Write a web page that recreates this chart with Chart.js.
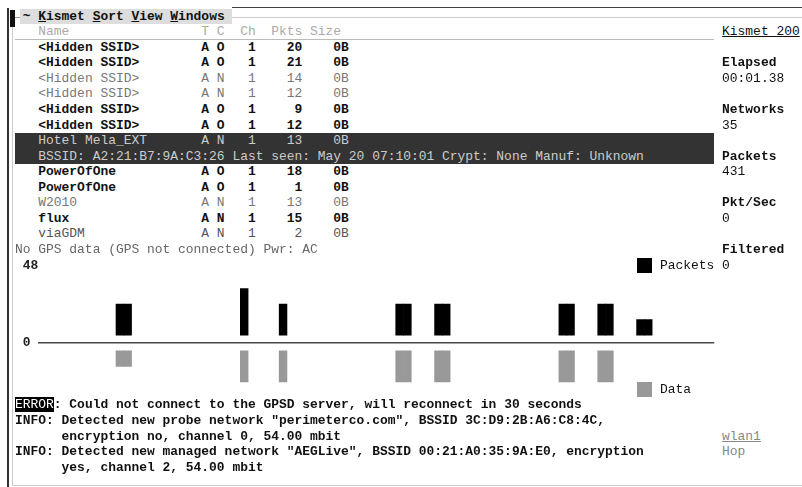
<!DOCTYPE html>
<html>
<head>
<meta charset="utf-8">
<script src="https://cdn.jsdelivr.net/npm/chart.js@4.4.1/dist/chart.umd.min.js"></script>
<style>
  body {
    margin: 0;
    width: 802px;
    height: 487px;
    overflow: hidden;
    position: relative;
    background: #fff;
    font-family: "Liberation Mono", "DejaVu Sans Mono", monospace;
    font-size: 12.95px;
    color: #111;
  }
  .t { position: absolute; white-space: pre; line-height: 15.55px; height: 15.55px; }
  .b { font-weight: bold; }
  .dim { color: #777; }
  .faint { color: #aaa; }
  .ln { position: absolute; }
  #graph { position: absolute; left: 15px; top: 250px; width: 710px; height: 160px; }
</style>
</head>
<body>
<div id="graph"><canvas id="packetGraph"></canvas></div>
<script>
// terminal cell grid
const CW = 7.77, CH = 15.55, X0 = 15, Y0 = 8.7;

// network list
const netNames = ["<Hidden SSID>", "<Hidden SSID>", "<Hidden SSID>", "<Hidden SSID>", "<Hidden SSID>", "<Hidden SSID>",
  "Hotel Mela_EXT", "PowerOfOne", "PowerOfOne", "W2010", "flux", "viaGDM"];
const netTC = ["A O", "A O", "A N", "A N", "A O", "A O", "A N", "A O", "A O", "A N", "A N", "A N"];
const netCh = [1, 1, 1, 1, 1, 1, 1, 1, 1, 1, 1, 1];
const netPkts = [20, 21, 14, 12, 9, 12, 13, 18, 1, 13, 15, 2];
const netSize = ["0B", "0B", "0B", "0B", "0B", "0B", "0B", "0B", "0B", "0B", "0B", "0B"];
const selectedInfo = "BSSID: A2:21:B7:9A:C3:26 Last seen: May 20 07:10:01 Crypt: None Manuf: Unknown";

// status panel
const statLabels = ["Elapsed", "Networks", "Packets", "Pkt/Sec", "Filtered"];
const statValues = ["00:01.38", "35", "431", "0", "0"];

// packet graph: one value per graph column, packets above the axis, data below
const _ = null;
const packetHist = [
  _, _, _, _, _, _, _, _, _, _, 24, 24, _, _, _, _, _, _, _, _,
  _, _, _, _, _, _, 33.6, _, _, _, _, 24, _, _, _, _, _, _, _, _,
  _, _, _, _, _, _, 24, 24, _, _, _, 24, 24, _, _, _, _, _, _, _,
  _, _, _, _, _, _, _, 24, 24, _, _, _, 24, 24, _, _, _, 14.4, 14.4, _,
  _, _, _, _, _, _, _
];
const dataHist = [
  _, _, _, _, _, _, _, _, _, _, 14.4, 14.4, _, _, _, _, _, _, _, _,
  _, _, _, _, _, _, 24, _, _, _, _, 24, _, _, _, _, _, _, _, _,
  _, _, _, _, _, _, 24, 24, _, _, _, 24, 24, _, _, _, _, _, _, _,
  _, _, _, _, _, _, _, 24, 24, _, _, _, 24, 24, _, _, _, _, _, _,
  _, _, _, _, _, _, _
];
const graphTicks = [0, 48];
const seriesNames = ["Packets", "Data"];

const messages = [
  "ERROR: Could not connect to the GPSD server, will reconnect in 30 seconds",
  "INFO: Detected new probe network \"perimeterco.com\", BSSID 3C:D9:2B:A6:C8:4C,",
  "      encryption no, channel 0, 54.00 mbit",
  "INFO: Detected new managed network \"AEGLive\", BSSID 00:21:A0:35:9A:E0, encryption",
  "      yes, channel 2, 54.00 mbit"
];

function put(row, col, text, cls, style) {
  const d = document.createElement("div");
  d.className = "t " + (cls || "");
  d.style.left = (X0 + col * CW) + "px";
  d.style.top = (Y0 + row * CH) + "px";
  d.textContent = text;
  if (style) Object.assign(d.style, style);
  document.body.appendChild(d);
  return d;
}
function line(x, y, w, h, color) {
  const d = document.createElement("div");
  d.className = "ln";
  Object.assign(d.style, { left: x + "px", top: y + "px", width: w + "px", height: h + "px", background: color });
  document.body.appendChild(d);
}

// frame
line(7, 8, 1.5, 479, "#333");
line(12, 17, 1, 468, "#ccc");
line(10, 10, 5, 17, "#111");
line(232, 6.5, 570, 1.5, "#444");
line(232, 16.5, 570, 1, "#ccc");
line(15, 16.5, 5, 1, "#999");
line(12, 485, 790, 1, "#ccc");
line(15, 39.3, 699, 1, "#bbb");

// menu bar
const menu = put(0, 1, "", "b", { background: "#ddd", paddingLeft: "3px", marginLeft: "-3px" });
menu.innerHTML = "~ <u>K</u>ismet <u>S</u>ort <u>V</u>iew <u>W</u>indows ";

// list header + rows
put(1, 3, "Name".padEnd(21) + "T C  Ch  Pkts Size", "faint");
line(X0, Y0 + 8 * CH, 90 * CW, 2 * CH, "#333");
netNames.forEach((name, i) => {
  const row = i < 7 ? 2 + i : 3 + i;
  const text = name.padEnd(21) + netTC[i] + "   " + netCh[i] + String(netPkts[i]).padStart(6) + "    " + netSize[i];
  let cls = netTC[i] === "A O" || name === "flux" ? "b" : "dim";
  if (i === 6) cls = "";
  const d = put(row, 3, text, cls);
  if (i === 6) d.style.color = "#ccc";
  if (name === "viaGDM") d.style.color = "#555";
});
put(9, 3, selectedInfo, "", { color: "#ccc" });
put(15, 0, "No GPS data (GPS not connected) Pwr: AC", "", { color: "#666" });

// status panel
put(1, 91, "Kismet 200", "", { textDecoration: "underline" });
statLabels.forEach((lab, i) => {
  put(3 + i * 3, 91, lab, "b");
  put(4 + i * 3, 91, statValues[i]);
});
put(27, 91, "wlan1", "", { color: "#888", textDecoration: "underline" });
put(28, 91, "Hop", "", { color: "#888" });

// messages
messages.forEach((m, i) => {
  const d = put(25 + i, 0, m, "b");
  if (m.startsWith("ERROR")) d.innerHTML = '<span style="background:#000;color:#fff;font-weight:normal">ERROR</span>' + m.slice(5);
});

// graph
const columns = packetHist.map((v, i) => i);
const graphFont = { family: "Liberation Mono", size: 12.95, weight: "bold" };
const chart = new Chart(document.getElementById("packetGraph"), {
  type: "bar",
  data: {
    labels: columns,
    datasets: [
      { label: seriesNames[0], data: packetHist, backgroundColor: "#000", base: 4.8 },
      { label: seriesNames[1], data: dataHist.map(v => (v === null ? null : -v)), backgroundColor: "#999", base: -4.8 },
    ],
  },
  options: {
    animation: false,
    responsive: true,
    maintainAspectRatio: false,
    layout: { padding: { left: CW, right: 10.7, top: 7.5, bottom: 12.55 } },
    datasets: { bar: { grouped: false, barPercentage: 1, categoryPercentage: 1, borderWidth: 0 } },
    plugins: { legend: { display: false }, tooltip: { enabled: false } },
    scales: {
      x: { display: false, stacked: true },
      y: {
        stacked: false,
        min: -33.6,
        max: 52.8,
        afterBuildTicks: (scale) => { scale.ticks = graphTicks.map(v => ({ value: v })); },
        afterFit: (scale) => { scale.width = 2 * CW; scale.paddingTop = 0; scale.paddingBottom = 0; },
        border: { display: false },
        grid: {
          drawTicks: false,
          lineWidth: 1.5,
          color: (ctx) => (ctx.tick && ctx.tick.value === 0 ? "#4a4a4a" : "rgba(0,0,0,0)"),
        },
        ticks: { crossAlign: "far", color: "#222", font: graphFont, padding: 0 },
      },
    },
  },
});

// legend in the graph's right margin
chart.data.datasets.forEach((ds, i) => {
  const row = i === 0 ? 16 : 24;
  line(X0 + 80 * CW, Y0 + row * CH, 2 * CW, CH, ds.backgroundColor);
  put(row, 83, ds.label);
});
</script>
</body>
</html>
